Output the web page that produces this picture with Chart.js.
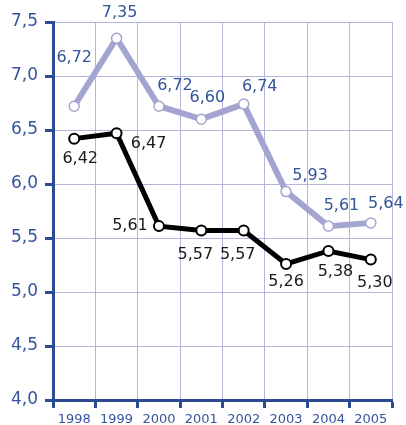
<!DOCTYPE html>
<html>
<head>
<meta charset="utf-8">
<script src="https://cdn.jsdelivr.net/npm/chart.js@4/dist/chart.umd.min.js"></script>
<style>
  body { margin: 0; background: #fff; }
  #wrap { width: 406px; height: 425px; }
</style>
</head>
<body>
<div id="wrap"><canvas id="chart" width="406" height="425"></canvas></div>
<script>
// values
const years = ["1998", "1999", "2000", "2001", "2002", "2003", "2004", "2005"];
const upperSeries = [6.72, 7.35, 6.72, 6.60, 6.74, 5.93, 5.61, 5.64];
const lowerSeries = [6.42, 6.47, 5.61, 5.57, 5.57, 5.26, 5.38, 5.30];

// where each value label sits relative to its point (dx, dy)
const upperLabelOffsets = [[0, -48], [3, -25], [16, -20], [6, -21], [16, -17], [24, -16], [13, -20], [15, -19]];
const lowerLabelOffsets = [[6, 20], [32, 11], [-29, 0], [-6, 24], [-6, 24], [0, 18], [7, 21], [4, 23]];

const axisBlue = "#2b4c93";
const textBlue = "#34549b";
const lavender = "#a3a5d0";
const gridColor = "#b3b5da";

const fmt = v => v.toFixed(2).replace(".", ",");

const pointLabels = {
  id: "pointLabels",
  afterDatasetsDraw(chart) {
    const ctx = chart.ctx;
    ctx.save();
    ctx.font = "16px 'DejaVu Sans'";
    ctx.textAlign = "center";
    ctx.textBaseline = "middle";
    chart.data.datasets.forEach((ds, di) => {
      const meta = chart.getDatasetMeta(di);
      const offs = ds.labelOffsets;
      ctx.fillStyle = ds.labelColor;
      meta.data.forEach((pt, i) => {
        ctx.fillText(fmt(ds.data[i]), pt.x + offs[i][0], pt.y + offs[i][1]);
      });
    });
    ctx.restore();
  }
};

new Chart(document.getElementById("chart"), {
  type: "line",
  data: {
    labels: years,
    datasets: [
      {
        data: upperSeries,
        borderColor: lavender,
        borderWidth: 6,
        pointBackgroundColor: "#fff",
        pointBorderColor: lavender,
        pointBorderWidth: 1.5,
        pointRadius: 5,
        tension: 0,
        labelOffsets: upperLabelOffsets,
        labelColor: textBlue
      },
      {
        data: lowerSeries,
        borderColor: "#000",
        borderWidth: 5,
        pointBackgroundColor: "#fff",
        pointBorderColor: "#000",
        pointBorderWidth: 2,
        pointRadius: 5,
        tension: 0,
        labelOffsets: lowerLabelOffsets,
        labelColor: "#1a1a1a"
      }
    ]
  },
  options: {
    responsive: false,
    animation: false,
    devicePixelRatio: 1,
    layout: { padding: { top: 22, right: 14, left: 0, bottom: 0 } },
    plugins: { legend: { display: false }, tooltip: { enabled: false } },
    scales: {
      x: {
        offset: true,
        grid: { offset: true, color: gridColor, lineWidth: 1, tickColor: axisBlue, tickWidth: 3, tickLength: 8 },
        border: { color: axisBlue, width: 3 },
        ticks: { color: textBlue, font: { family: "DejaVu Sans", size: 13 }, padding: 4, maxRotation: 0 },
        afterFit: s => { s.height = 25; }
      },
      y: {
        min: 4,
        max: 7.5,
        grid: { color: gridColor, lineWidth: 1, tickColor: axisBlue, tickWidth: 3, tickLength: 8 },
        border: { color: axisBlue, width: 3 },
        ticks: {
          stepSize: 0.5,
          color: textBlue,
          font: { family: "DejaVu Sans", size: 17 },
          padding: 7,
          callback: v => v.toFixed(1).replace(".", ",")
        },
        afterFit: s => { s.width = 53; }
      }
    }
  },
  plugins: [pointLabels]
});
</script>
</body>
</html>
